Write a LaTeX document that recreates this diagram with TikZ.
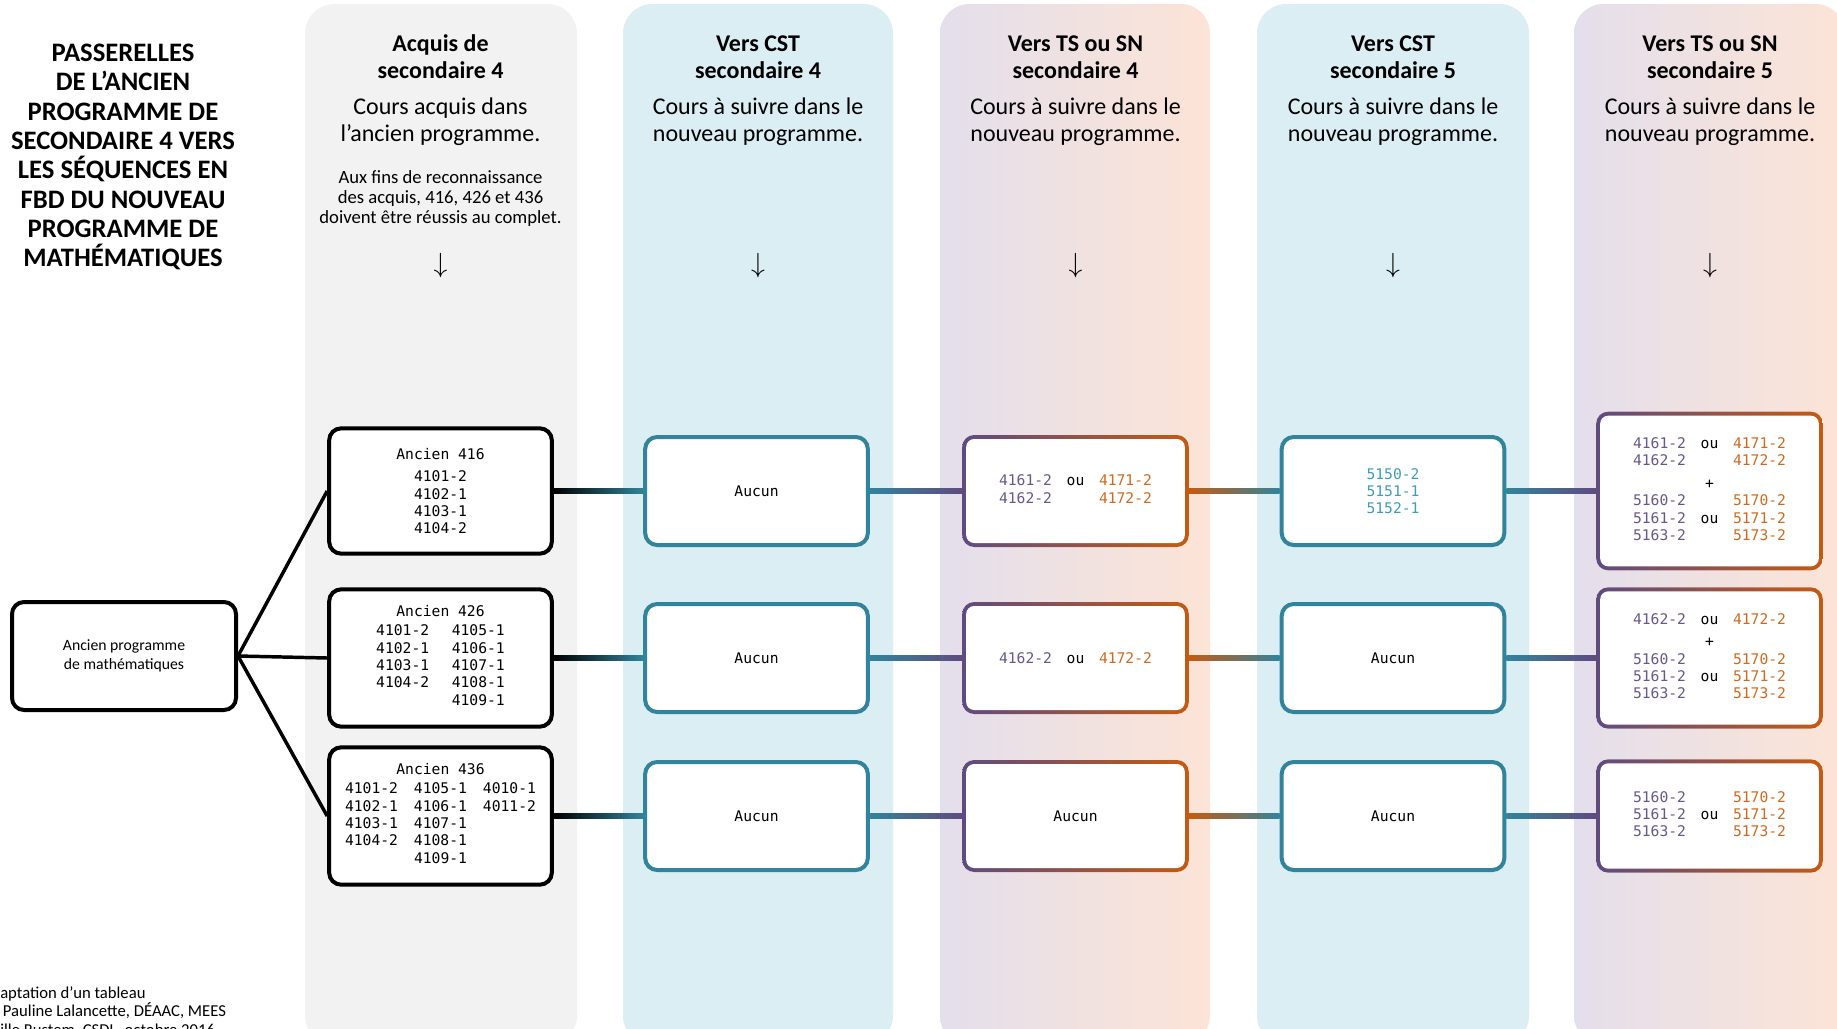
\documentclass[tikz,border=0pt]{standalone}
\usepackage{fontspec}
\setmainfont{Carlito}
\newfontfamily\codefont{DejaVu Sans Mono}
\usetikzlibrary{calc}

\definecolor{fondgris}{HTML}{F2F2F2}
\definecolor{fondcst}{HTML}{DAEEF3}
\definecolor{fondlilas}{HTML}{E4DFEC}
\definecolor{fondpeche}{HTML}{FCE4D6}
\definecolor{cstteal}{HTML}{31849B}
\definecolor{csttexte}{HTML}{3E9DB8}
\definecolor{tsviolet}{HTML}{5F4B80}
\definecolor{tsorange}{HTML}{C55A11}
\definecolor{violtexte}{HTML}{685789}
\definecolor{oratexte}{HTML}{D0691F}

\newcommand{\codesize}{\fontsize{11}{13}\selectfont}
\newcommand{\vio}[1]{\textcolor{violtexte}{#1}}
\newcommand{\ora}[1]{\textcolor{oratexte}{#1}}
\newcommand{\jonction}[4]{\shade[left color=#3, right color=#4] ($(#1.east)+(0,1.6pt)$) rectangle ($(#2.west)+(0,-1.6pt)$);}

\begin{document}
\begin{tikzpicture}[x=0.75pt, y=-0.75pt,
    oldbox/.style={draw, line width=3pt, rounded corners=9pt, fill=white, align=center, minimum width=167pt, font={\codefont\codesize}},
    cstbox/.style={draw=cstteal, line width=3pt, rounded corners=9pt, fill=white, align=center, minimum width=167pt, minimum height=81pt, font={\codefont\codesize}},
    tsbox/.style={rounded corners=9pt, fill=white, align=center, minimum width=170pt, font={\codefont\codesize},
      path picture={
        \shade[left color=tsviolet, right color=tsorange] (path picture bounding box.south west) rectangle (path picture bounding box.north east);
        \fill[white, rounded corners=6pt] ([shift={(3pt,3pt)}]path picture bounding box.south west) rectangle ([shift={(-3pt,-3pt)}]path picture bounding box.north east);
      }},
    colhead/.style={align=center, font={\bfseries\fontsize{18}{20.3}\selectfont}},
    colsub/.style={align=center, font={\fontsize{18}{20.5}\selectfont}},
    fleche/.style={font={\fontsize{20}{20}\selectfont}}]

  \useasboundingbox (0,0) rectangle (1837,1028);
  \clip (0,0) rectangle (1837,1028);

  % Colonnes
  \fill[fondgris, rounded corners=22pt] (305,4) rectangle (577,1045);
  \fill[fondcst, rounded corners=22pt] (623,4) rectangle (893,1045);
  \shade[left color=fondlilas, right color=fondpeche, rounded corners=22pt] (940,4) rectangle (1210,1045);
  \fill[fondcst, rounded corners=22pt] (1257,4) rectangle (1529,1045);
  \shade[left color=fondlilas, right color=fondpeche, rounded corners=22pt] (1574,4) rectangle (1845,1045);

  % Titre
  \node[align=center, font={\bfseries\fontsize{20}{22}\selectfont}] (titre) at (123,157)
    {PASSERELLES\\DE L’ANCIEN\\PROGRAMME DE\\SECONDAIRE 4 VERS\\LES SÉQUENCES EN\\FBD DU NOUVEAU\\PROGRAMME DE\\MATHÉMATIQUES};

  % En-tetes
  \node[colhead] (h1) at (440.5,57) {Acquis de\\secondaire 4};
  \node[colhead] (h2) at (758,57) {Vers CST\\secondaire 4};
  \node[colhead] (h3) at (1075.5,57) {Vers TS ou SN\\secondaire 4};
  \node[colhead] (h4) at (1393,57) {Vers CST\\secondaire 5};
  \node[colhead] (h5) at (1710,57) {Vers TS ou SN\\secondaire 5};

  \node[colsub] (s1) at (440.5,122) {Cours acquis dans\\l’ancien programme.};
  \node[colsub] (s2) at (758,122) {Cours à suivre dans le\\nouveau programme.};
  \node[colsub] (s3) at (1075.5,122) {Cours à suivre dans le\\nouveau programme.};
  \node[colsub] (s4) at (1393,122) {Cours à suivre dans le\\nouveau programme.};
  \node[colsub] (s5) at (1710,122) {Cours à suivre dans le\\nouveau programme.};

  \node[align=center, font={\fontsize{14}{15}\selectfont}] (note) at (440.5,199)
    {Aux fins de reconnaissance\\des acquis, 416, 426 et 436\\doivent être réussis au complet.};

  \node[fleche] (f1) at (440.5,266) {$\downarrow$};
  \node[fleche] (f2) at (758,266) {$\downarrow$};
  \node[fleche] (f3) at (1075.5,266) {$\downarrow$};
  \node[fleche] (f4) at (1393,266) {$\downarrow$};
  \node[fleche] (f5) at (1710,266) {$\downarrow$};

  % Ancien programme
  \node[draw, line width=3pt, rounded corners=9pt, fill=white, align=center, minimum width=168pt, minimum height=81pt,
    font={\fontsize{11.8}{14}\selectfont}] (prog) at (124,656) {Ancien programme\\de mathématiques};

  \node[oldbox, minimum height=94pt] (a416) at (440.5,491)
    {Ancien 416\\[4pt]4101-2\\4102-1\\4103-1\\4104-2};
  \node[oldbox, minimum height=103pt] (a426) at (440.5,658)
    {Ancien 426\\[4pt]\begin{tabular}{@{}l@{\hspace{17pt}}l@{}}
      4101-2 & 4105-1\\ 4102-1 & 4106-1\\ 4103-1 & 4107-1\\ 4104-2 & 4108-1\\ & 4109-1
    \end{tabular}};
  \node[oldbox, minimum height=103pt] (a436) at (440.5,816)
    {Ancien 436\\[4pt]\begin{tabular}{@{}l@{\hspace{12pt}}l@{\hspace{12pt}}l@{}}
      4101-2 & 4105-1 & 4010-1\\ 4102-1 & 4106-1 & 4011-2\\ 4103-1 & 4107-1 & \\ 4104-2 & 4108-1 & \\ & 4109-1 &
    \end{tabular}};

  \draw[line width=2.6pt] (prog.east) -- (a416.west);
  \draw[line width=2.6pt] (prog.east) -- (a426.west);
  \draw[line width=2.6pt] (prog.east) -- (a436.west);

  % CST secondaire 4
  \node[cstbox] (cst4a) at (756.5,491) {Aucun};
  \node[cstbox] (cst4b) at (756.5,658) {Aucun};
  \node[cstbox] (cst4c) at (756.5,816) {Aucun};

  % TS ou SN secondaire 4
  \node[tsbox, minimum height=84pt] (ts4a) at (1075.5,491)
    {\begin{tabular}{@{}l@{\hspace{11pt}}c@{\hspace{11pt}}l@{}}
      \vio{4161-2} & ou & \ora{4171-2}\\ \vio{4162-2} & & \ora{4172-2}
    \end{tabular}};
  \node[tsbox, minimum height=84pt] (ts4b) at (1075.5,658)
    {\vio{4162-2}\hspace{11pt}ou\hspace{11pt}\ora{4172-2}};
  \node[tsbox, minimum height=84pt] (ts4c) at (1075.5,816) {Aucun};

  % CST secondaire 5
  \node[cstbox] (cst5a) at (1393,491) {\textcolor{csttexte}{5150-2}\\\textcolor{csttexte}{5151-1}\\\textcolor{csttexte}{5152-1}};
  \node[cstbox] (cst5b) at (1393,658) {Aucun};
  \node[cstbox] (cst5c) at (1393,816) {Aucun};

  % TS ou SN secondaire 5
  \node[tsbox, minimum height=119pt] (ts5a) at (1709.5,491)
    {\begin{tabular}{@{}l@{\hspace{11pt}}c@{\hspace{11pt}}l@{}}
      \vio{4161-2} & ou & \ora{4171-2}\\ \vio{4162-2} & & \ora{4172-2}\\[4pt]
      & + & \\
      \vio{5160-2} & & \ora{5170-2}\\ \vio{5161-2} & ou & \ora{5171-2}\\ \vio{5163-2} & & \ora{5173-2}
    \end{tabular}};
  \node[tsbox, minimum height=106pt] (ts5b) at (1709.5,658)
    {\begin{tabular}{@{}l@{\hspace{11pt}}c@{\hspace{11pt}}l@{}}
      \vio{4162-2} & ou & \ora{4172-2}\\[4pt]
      & + & \\
      \vio{5160-2} & & \ora{5170-2}\\ \vio{5161-2} & ou & \ora{5171-2}\\ \vio{5163-2} & & \ora{5173-2}
    \end{tabular}};
  \node[tsbox, minimum height=85pt] (ts5c) at (1709.5,816)
    {\begin{tabular}{@{}l@{\hspace{11pt}}c@{\hspace{11pt}}l@{}}
      \vio{5160-2} & & \ora{5170-2}\\ \vio{5161-2} & ou & \ora{5171-2}\\ \vio{5163-2} & & \ora{5173-2}
    \end{tabular}};

  % Liens
  \jonction{a416}{cst4a}{black}{cstteal}
  \jonction{a426}{cst4b}{black}{cstteal}
  \jonction{a436}{cst4c}{black}{cstteal}
  \jonction{cst4a}{ts4a}{cstteal}{tsviolet}
  \jonction{cst4b}{ts4b}{cstteal}{tsviolet}
  \jonction{cst4c}{ts4c}{cstteal}{tsviolet}
  \jonction{ts4a}{cst5a}{tsorange}{cstteal}
  \jonction{ts4b}{cst5b}{tsorange}{cstteal}
  \jonction{ts4c}{cst5c}{tsorange}{cstteal}
  \jonction{cst5a}{ts5a}{cstteal}{tsviolet}
  \jonction{cst5b}{ts5b}{cstteal}{tsviolet}
  \jonction{cst5c}{ts5c}{cstteal}{tsviolet}

  % Source
  \node[anchor=west, inner sep=0pt, align=left, font={\fontsize{12.5}{14}\selectfont}] (source) at (0,1012)
    {aptation d’un tableau\\\hspace{2pt}Pauline Lalancette, DÉAAC, MEES\\ille Rustem, CSDL, octobre 2016};
\end{tikzpicture}
\end{document}
